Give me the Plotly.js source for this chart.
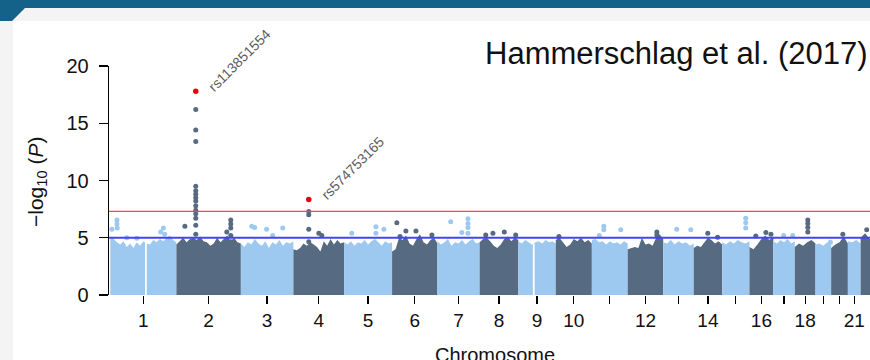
<!DOCTYPE html>
<html>
<head>
<meta charset="utf-8">
<script src="https://cdn.plot.ly/plotly-3.0.1.min.js"></script>
<style>
  html, body { margin:0; padding:0; }
  body { width:870px; height:360px; overflow:hidden; background:#f4f4f4; position:relative; font-family:"Liberation Sans", Arial, sans-serif; }
  #teal { position:absolute; left:0; top:0; width:870px; height:21px; background:#14628a;
          clip-path: polygon(0 0, 870px 0, 870px 8px, 25px 8px, 12px 21px, 0 21px); }
  #white { position:absolute; left:13px; top:21px; right:0; bottom:0; background:#ffffff; }
  #plot { position:absolute; left:0; top:0; width:870px; height:360px; }
</style>
</head>
<body>
<div id="teal"></div>
<div id="white"></div>
<div id="plot"></div>
<script>
// ---- data ----
const chromosomes = ["1","2","3","4","5","6","7","8","9","10","11","12","13","14","15","16","17","18","19","20","21","22"];
const chrLengthMb = [249,243,198,191,181,171,159,146,141,136,135,134,115,107,103,90,81,78,59,63,48,51];
// tick labels actually printed under the ticks (chromosomes 1..21)
const tickLabels = ["1","2","3","4","5","6","7","8","9","10","","12","","14","","16","","18","","","21"];

// top of the dense SNP cloud, sampled evenly along each chromosome (-log10 P)
const bulkTop = [
  [5.1,4.9,4.6,4.4,4.7,4.2,4.5,4.1,4.6,4.3,4.7,4.5,4.4,4.8,4.6,4.9,4.7,5.0,5.2,4.8,4.6],
  [4.4,4.7,5.0,4.6,4.9,5.0,4.8,5.1,4.7,4.6,4.3,4.5,5.0,4.6,4.9,5.2,4.7,5.0,4.6,4.5],
  [4.5,4.2,4.6,4.4,4.9,4.5,4.3,4.7,4.1,4.6,4.4,4.8,4.3,4.6,4.5,4.7],
  [4.0,3.9,4.1,4.5,4.3,4.6,4.4,4.2,3.8,4.7,4.3,4.9,4.4,4.8,4.5,4.6],
  [4.6,4.4,4.7,4.3,4.6,4.5,4.8,4.4,4.7,4.9,4.6,4.3,4.7,4.5,4.6],
  [3.8,4.0,5.0,4.8,5.2,4.5,4.3,4.9,5.3,4.6,4.4,4.8,5.0,4.5],
  [4.7,4.4,4.6,4.9,4.3,4.6,4.5,4.8,4.4,4.7,4.9,4.5,4.6],
  [4.6,4.9,5.0,4.7,4.3,4.1,4.4,4.9,5.1,4.7,5.0,4.8],
  [4.7,4.5,4.8,4.6,4.4,4.6,4.7,4.5,4.8,4.6,4.7,4.5],
  [4.8,5.0,4.6,4.2,4.4,4.9,4.7,5.0,4.6,4.8,4.5],
  [4.8,4.9,4.6,4.7,4.4,4.7,4.5,4.6,4.4,4.7,4.5],
  [4.0,4.1,4.2,4.1,5.0,4.4,4.5,4.3,5.0,5.3,4.9],
  [4.6,4.5,4.8,4.4,4.7,4.5,4.6,4.3,4.5],
  [4.1,4.3,4.2,4.6,5.0,4.8,4.5,4.7,4.4],
  [4.6,4.4,4.7,4.5,4.8,4.6,4.5,4.7],
  [4.2,4.0,4.4,4.9,5.2,4.8,5.1],
  [4.7,4.5,4.8,4.6,4.9,4.5,4.7],
  [4.2,4.5,4.3,4.6,4.8,4.5],
  [4.4,4.5,4.3,4.6,4.4],
  [4.1,4.4,4.6,5.1,4.5],
  [4.7,4.6,4.8,4.5],
  [5.0,5.4,4.9,4.7]
];

// gaps without SNPs (centromeres) : chromosome, Mb, height of gap
const gapChr = [1, 9];
const gapMb = [134, 58];
const gapTop = [4.6, 4.5];

// individual SNPs standing out of the cloud
const snpChr = [1,1,1,1,1,1,1,1,1,
  2,2,2,2,2,2,2,2,2,2,2,2,2,2, 2, 2,2,2,2,2, 2,
  3,3,3,3,3,
  4,4,4,4,4,4,
  5,5,5,5,
  6,6,6,6,6,
  7,7,7,7,7,7,
  8,8,8,8,
  10,
  11,11,11,11,
  12,12,
  13,13,
  14,14,
  15,15,15,
  16,16,16,
  17,17,
  18,18,18,18,
  19,20,22];
const snpMb = [25,25,26,6,190,200,205,62,100,
  73,73,73,73,73,73,73,73,73,73,73,73,73,73, 32, 205,205,205,205,205, 190,
  41,52,97,158,120,
  58,58,58,58,96,107,
  29,120,120,150,
  18,52,90,150,30,
  50,115,115,115,115,92,
  23,50,93,136,
  12,
  45,45,109,28,
  110,110,
  51,104,
  53,90,
  89,89,89,
  24,62,81,
  39,73,
  49,49,49,49,
  56,44,23];
const snpP = [6.55,6.2,5.85,5.75,5.5,5.85,5.3,5.0,4.95,
  16.2,14.4,13.4,9.5,9.1,8.8,8.5,8.2,7.8,7.4,7.1,6.7,6.1,5.3, 6.0, 6.55,6.2,5.85,5.2,4.65, 5.5,
  6.0,5.9,5.75,5.85,5.2,
  7.3,7.0,5.75,4.65,5.4,5.2,
  5.4,5.95,5.4,5.75,
  6.3,5.6,5.6,5.25,5.1,
  6.4,6.65,6.25,5.9,5.4,5.45,
  5.25,5.4,5.5,5.25,
  5.1,
  6.0,5.7,5.7,5.2,
  5.5,5.25,
  5.75,5.7,
  5.4,5.05,
  6.7,6.3,5.85,
  5.15,5.45,5.3,
  5.2,5.2,
  6.55,6.25,5.9,5.5,
  4.6,5.3,5.7];

// lead SNPs
const leadChr = [2, 4];
const leadMb = [73, 58];
const leadP = [17.8, 8.35];
const leadName = ["rs113851554", "rs574753165"];

const suggestiveLine = 5;
const significanceLine = 7.3;

// ---- build ----
const LIGHT = "#9dc9f1", DARK = "#566a81";
const offsets = [];
let acc = 0;
for (let i = 0; i < chrLengthMb.length; i++) { offsets.push(acc); acc += chrLengthMb[i]; }
const colorOf = c => (c % 2 === 1 ? LIGHT : DARK);
const gpos = (c, mb) => offsets[c - 1] + mb;

const traces = [];
bulkTop.forEach((tops, i) => {
  const n = tops.length;
  const xs = tops.map((_, k) => offsets[i] + chrLengthMb[i] * k / (n - 1));
  traces.push({
    type: "scatter", mode: "lines", x: xs, y: tops,
    fill: "tozeroy", fillcolor: colorOf(i + 1),
    line: { width: 0, color: colorOf(i + 1) }, hoverinfo: "skip"
  });
});

// gaps
const gx = [], gy = [];
gapChr.forEach((c, i) => { gx.push(gpos(c, gapMb[i]), gpos(c, gapMb[i]), null); gy.push(0, gapTop[i], null); });
traces.push({ type: "scatter", mode: "lines", x: gx, y: gy, line: { color: "#ffffff", width: 1.8 }, hoverinfo: "skip" });

// snps
traces.push({
  type: "scatter", mode: "markers",
  x: snpChr.map((c, i) => gpos(c, snpMb[i])), y: snpP,
  marker: { size: 5, color: snpChr.map(colorOf) }, hoverinfo: "skip"
});
traces.push({
  type: "scatter", mode: "markers",
  x: leadChr.map((c, i) => gpos(c, leadMb[i])), y: leadP,
  marker: { size: 5.5, color: "#e8000b" }, hoverinfo: "skip"
});

const tickVals = tickLabels.map((_, i) => offsets[i] + chrLengthMb[i] / 2);

const annotations = leadName.map((nm, i) => ({
  x: gpos(leadChr[i], leadMb[i]), y: leadP[i], xref: "x", yref: "y",
  text: nm, showarrow: false, textangle: -45,
  xanchor: "center", yanchor: "middle", xshift: 44, yshift: 31,
  font: { size: 14, color: "#5c5c5c" }
}));
annotations.push({
  xref: "paper", yref: "paper", x: 0.746, y: 1.053, xanchor: "center", yanchor: "middle",
  text: "Hammerschlag et al. (2017)", showarrow: false, font: { size: 31, color: "#111111" }
});
annotations.push({
  xref: "paper", yref: "paper", x: -0.0946, y: 0.4934, xanchor: "center", yanchor: "middle",
  text: "\u2212log<sub>10</sub> (<i>P</i>)", textangle: -90, showarrow: false, font: { size: 21, color: "#111111" }
});
annotations.push({
  xref: "paper", yref: "paper", x: 0.507, y: -0.262, xanchor: "center", yanchor: "middle",
  text: "Chromosome", showarrow: false, font: { size: 20, color: "#111111" }
});

const layout = {
  width: 870, height: 360,
  margin: { l: 109, r: 0, t: 66, b: 65, pad: 0 },
  paper_bgcolor: "rgba(0,0,0,0)", plot_bgcolor: "rgba(0,0,0,0)",
  showlegend: false,
  font: { family: "Liberation Sans, Arial, sans-serif", color: "#111111" },
  xaxis: {
    range: [-5, 2863.4], showgrid: false, zeroline: false, showline: false,
    ticks: "outside", ticklen: 8, tickwidth: 1.3, tickcolor: "#000",
    tickvals: tickVals, ticktext: tickLabels, tickfont: { size: 19 }, fixedrange: true
  },
  yaxis: {
    range: [0, 20], showgrid: false, zeroline: false, showline: true, linecolor: "#000", linewidth: 1.3,
    ticks: "outside", ticklen: 9, tickwidth: 1.3, tickcolor: "#000", ticklabelstandoff: 6,
    tickvals: [0, 5, 10, 15, 20], tickfont: { size: 20 }, fixedrange: true
  },
  shapes: [
    { type: "line", xref: "paper", yref: "y", x0: 0, x1: 1, y0: suggestiveLine, y1: suggestiveLine,
      line: { color: "#4343ff", width: 2 }, layer: "above" },
    { type: "line", xref: "paper", yref: "y", x0: 0, x1: 1, y0: significanceLine, y1: significanceLine,
      line: { color: "#ef4a4a", width: 1.3 }, layer: "above" }
  ],
  annotations: annotations
};

Plotly.newPlot("plot", traces, layout, { staticPlot: true, displayModeBar: false });
</script>
</body>
</html>
